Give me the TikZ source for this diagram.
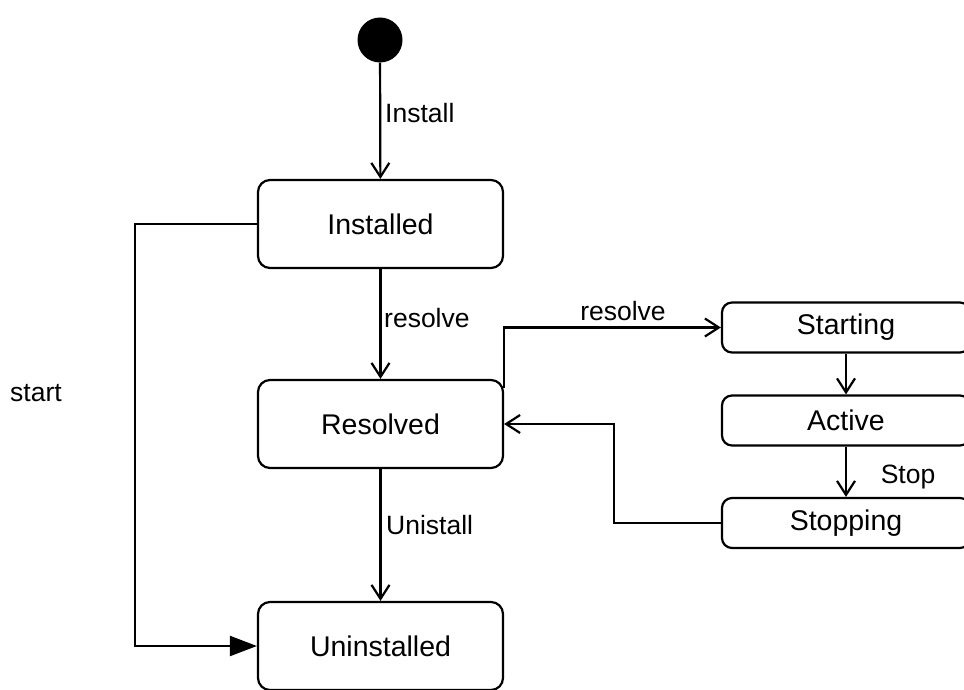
\documentclass[tikz,border=0pt]{standalone}
\usepackage{fontspec}
\setmainfont{Liberation Sans}
\usetikzlibrary{arrows.meta}

\tikzset{
  state/.style={draw=black, line width=2.2pt, rounded corners=12pt, fill=white,
    inner sep=0pt, font=\fontsize{28.5}{32}\selectfont},
  bigstate/.style={state, minimum width=245pt, minimum height=88pt},
  smallstate/.style={state, rounded corners=10pt, minimum width=248pt, minimum height=50pt},
  arr/.style={draw=black, line width=2.2pt,
    -{Straight Barb[length=14pt, width=18pt, line width=2.2pt]}},
  farr/.style={draw=black, line width=2.2pt, -{Triangle[length=27pt, width=20pt]}},
  lbl/.style={font=\fontsize{26.5}{30}\selectfont, inner sep=0pt},
}

\begin{document}
\begin{tikzpicture}[x=1pt, y=-1pt]
  \useasboundingbox (0,0) rectangle (964,690);

  % initial pseudo-state
  \node[circle, fill=black, minimum size=45pt, inner sep=0pt] (init) at (380,40) {};

  % main lifecycle states
  \node[bigstate] (installed)   at (380.5,224) {Installed};
  \node[bigstate] (resolved)    at (380.5,424) {Resolved};
  \node[bigstate] (uninstalled) at (380.5,646) {Uninstalled};

  % runtime states
  \node[smallstate] (starting) at (846,327.5) {Starting};
  \node[smallstate] (active)   at (846,420.5) {Active};
  \node[smallstate] (stopping) at (846,523)   {Stopping};

  % transitions
  \draw[arr] (init) -- (installed);
  \draw[arr] (installed) -- (resolved);
  \draw[arr] (resolved) -- (uninstalled);
  \draw[arr] ([yshift=-9pt]resolved.north east) |- (starting.west);
  \draw[arr] (starting) -- (active);
  \draw[arr] (active) -- (stopping);
  \draw[arr] (stopping.west) -- (614,523) |- (resolved.east);
  \draw[farr] (installed.west) -- (135,224) |- (uninstalled.west);

  % transition labels
  \node[lbl, anchor=west] (lInstall)  at (385,113) {Install};
  \node[lbl, anchor=west] (lResolve)  at (384,318) {resolve};
  \node[lbl, anchor=west] (lUnistall) at (386,525) {Unistall};
  \node[lbl] (lResolve2) at (623,311) {resolve};
  \node[lbl] (lStop)     at (908,477) {Stop};
  \node[lbl] (lStart)    at (36,393)  {start};
\end{tikzpicture}
\end{document}
